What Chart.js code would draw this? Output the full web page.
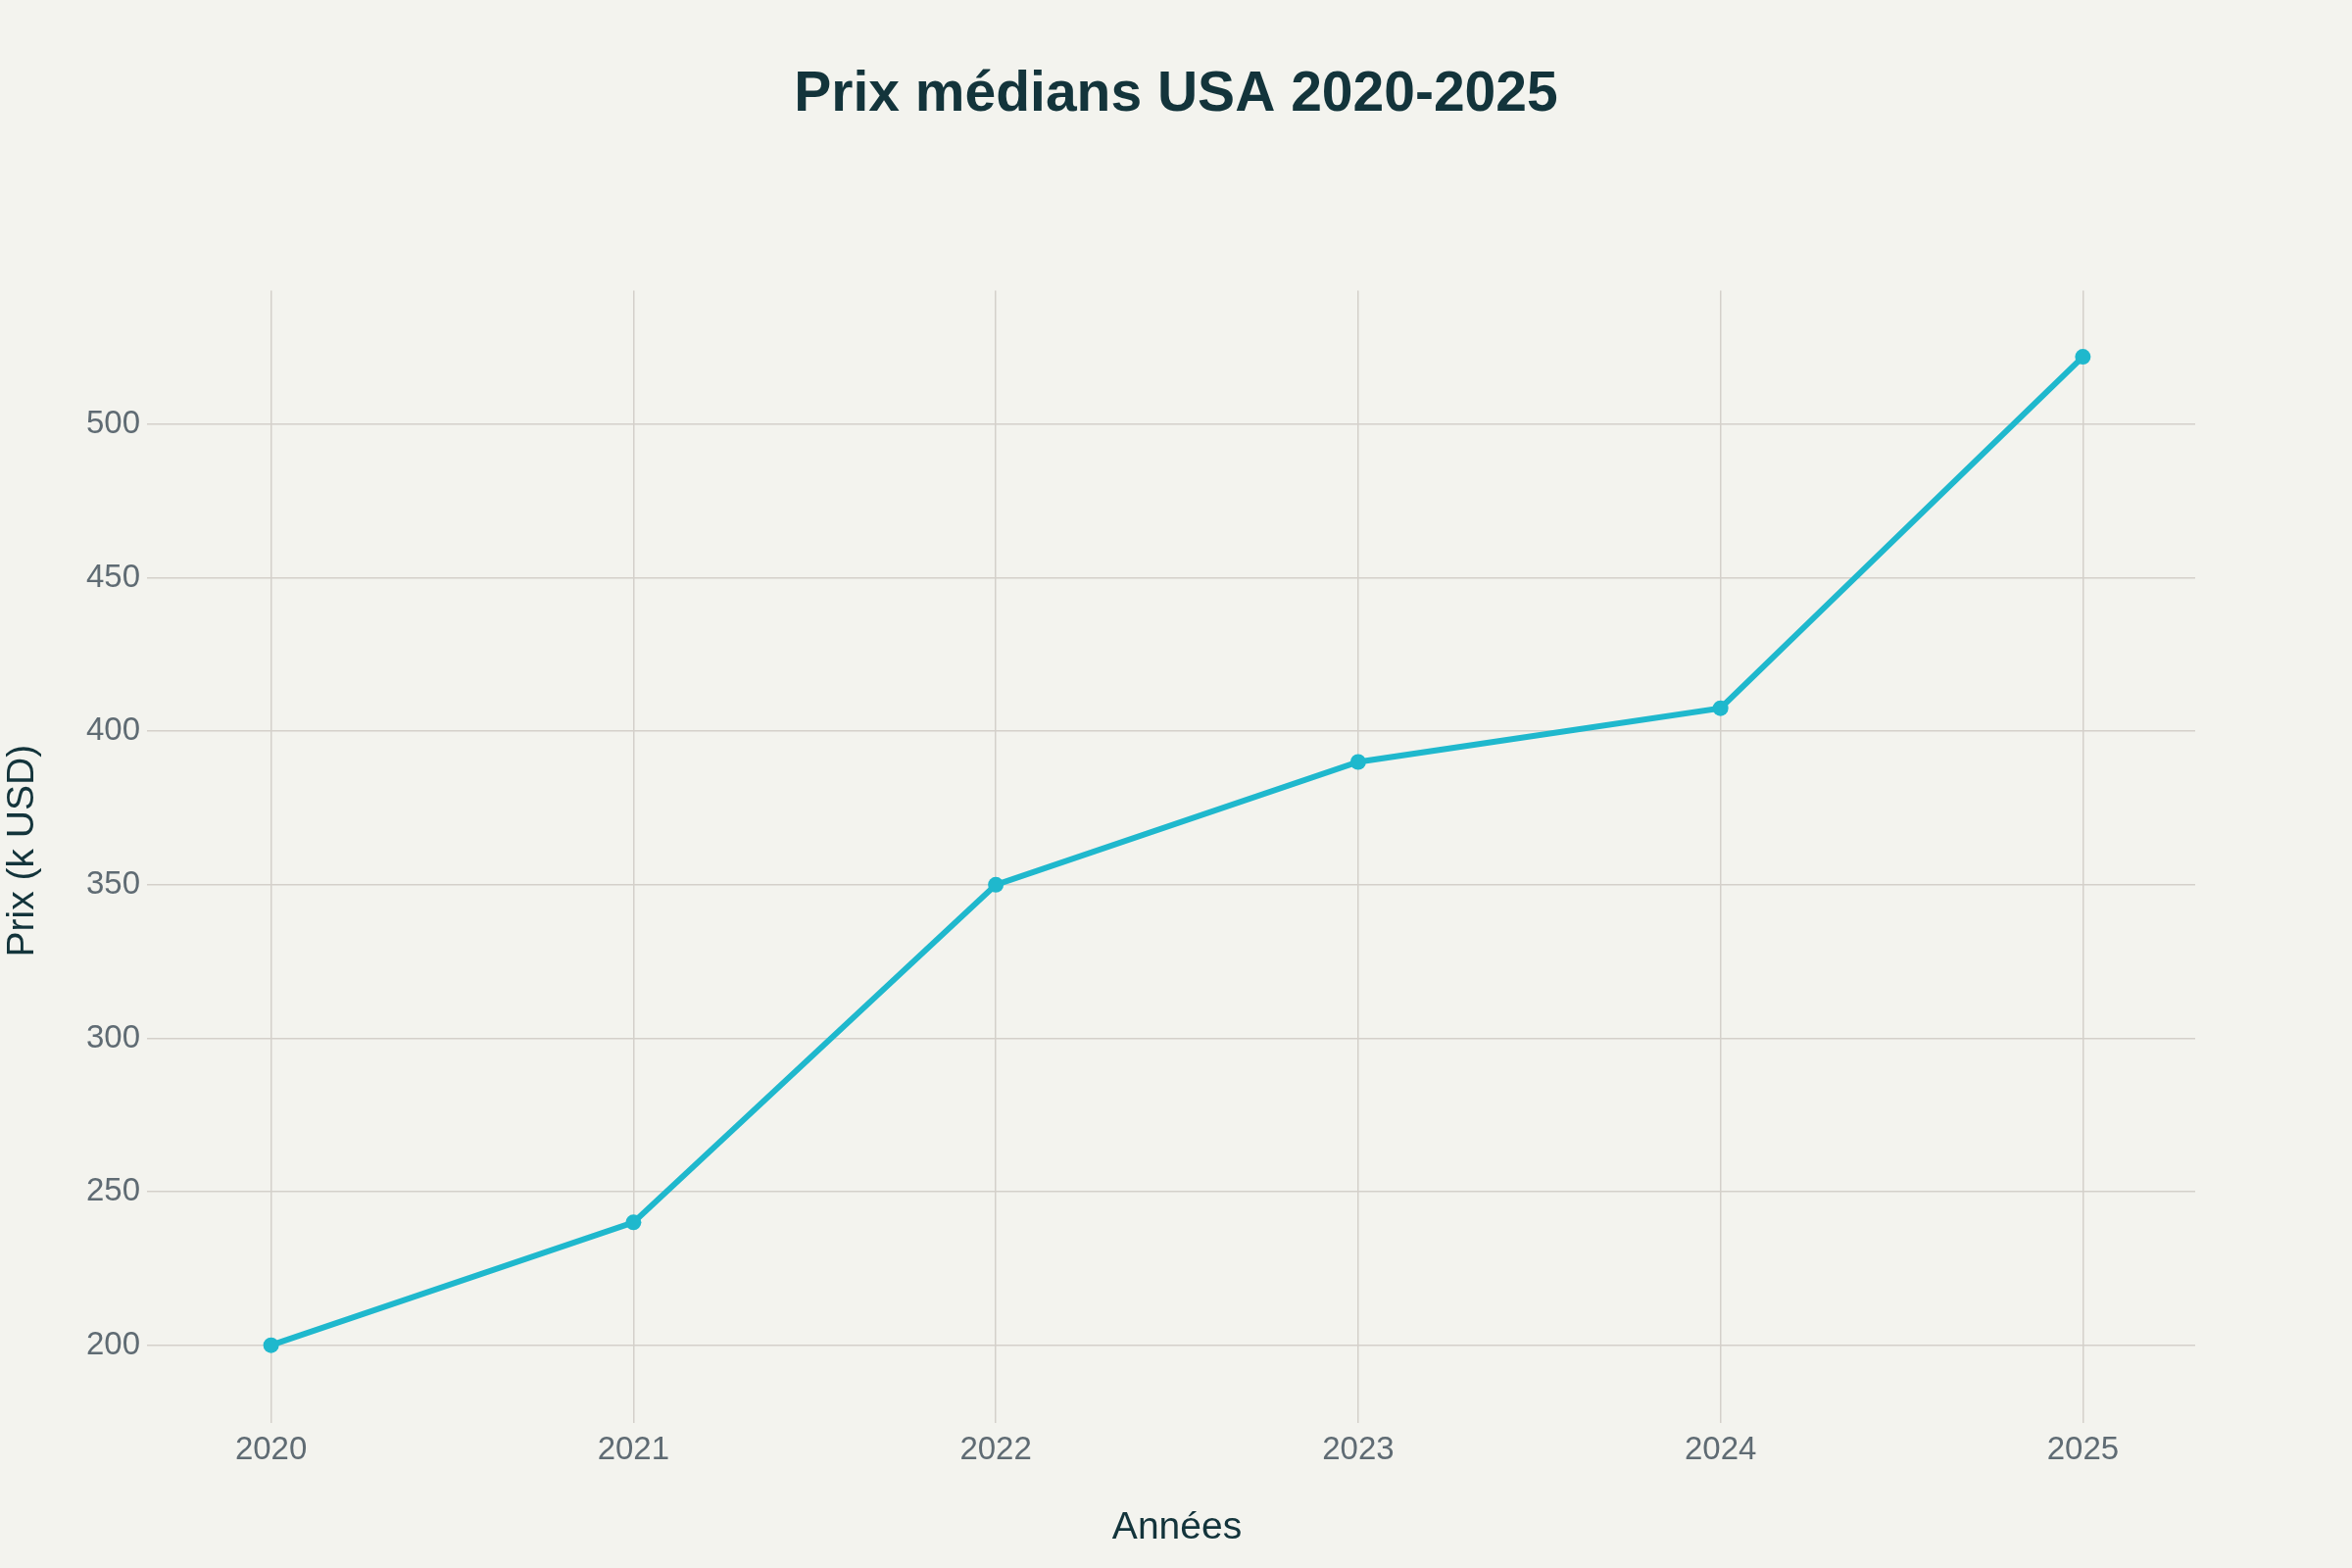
<!DOCTYPE html>
<html>
<head>
<meta charset="utf-8">
<script src="https://cdn.jsdelivr.net/npm/chart.js@4/dist/chart.umd.min.js"></script>
<style>
  html, body { margin: 0; padding: 0; background: #f3f3ee; }
  canvas { display: block; }
</style>
</head>
<body>
<canvas id="prix-chart" width="2400" height="1600"></canvas>
<script>
// data
const years = [2020, 2021, 2022, 2023, 2024, 2025];
const prix = [200, 240, 350, 390, 407.5, 522];   // k USD
const yTicks = [200, 250, 300, 350, 400, 450, 500];

const bg = "#f3f3ee";
const dark = "#13343b";
const grey = "#5f6b73";
const gridCol = "#d4d0ca";
const lineCol = "#1fb8cd";

// paint page colour behind the chart
const bgPlugin = {
    id: "bg",
    beforeDraw(chart) {
        const c = chart.ctx;
        c.save();
        c.fillStyle = bg;
        c.fillRect(0, 0, chart.width, chart.height);
        c.restore();
    }
};

new Chart("prix-chart", {
    type: "line",
    data: {
        datasets: [{
            label: "Prix",
            data: years.map((y, i) => ({ x: y, y: prix[i] })),
            borderColor: lineCol,
            backgroundColor: lineCol,
            borderWidth: 6,
            pointRadius: 8,
            pointBorderWidth: 0,
            pointBackgroundColor: lineCol,
            fill: false,
            tension: 0,
        }]
    },
    options: {
        responsive: false,
        devicePixelRatio: 1,
        animation: false,
        layout: { padding: 0 },
        plugins: {
            legend: { display: false },
            tooltip: { enabled: false },
            title: {
                display: true,
                text: "Prix médians USA 2020-2025",
                color: dark,
                font: { family: "Liberation Sans", size: 57, weight: "bold" },
                padding: { top: 63, bottom: 165 },
            },
        },
        scales: {
            x: {
                type: "linear",
                min: 2019.69,
                max: 2025.31,
                afterBuildTicks: s => { s.ticks = years.map(v => ({ value: v })); },
                afterFit: s => { s.height = 160; },
                grid: { color: gridCol, lineWidth: 1.5, tickLength: 12 },
                border: { display: false },
                ticks: {
                    color: grey,
                    padding: 8,
                    font: { family: "Liberation Sans", size: 33 },
                    callback: v => String(v),
                },
                title: {
                    display: true,
                    text: "Années",
                    color: dark,
                    font: { family: "Liberation Sans", size: 39 },
                    padding: { top: 0, bottom: 17 },
                },
            },
            y: {
                min: 178.5,
                max: 543.6,
                afterBuildTicks: s => { s.ticks = yTicks.map(v => ({ value: v })); },
                afterFit: s => { s.width = 162; },
                grid: { color: gridCol, lineWidth: 1.5, tickLength: 12 },
                border: { display: false },
                ticks: {
                    color: grey,
                    padding: 7,
                    font: { family: "Liberation Sans", size: 33 },
                    callback: v => String(v),
                },
                title: {
                    display: true,
                    text: "Prix (k USD)",
                    color: dark,
                    font: { family: "Liberation Sans", size: 39 },
                    padding: { top: 0, bottom: 0 },
                },
            },
            // empty right margin so the title stays centred on the page
            yRight: {
                position: "right",
                display: true,
                afterFit: s => { s.width = 160; },
                grid: { display: false },
                border: { display: false },
                ticks: { display: false },
            },
        },
    },
    plugins: [bgPlugin],
});
</script>
</body>
</html>
